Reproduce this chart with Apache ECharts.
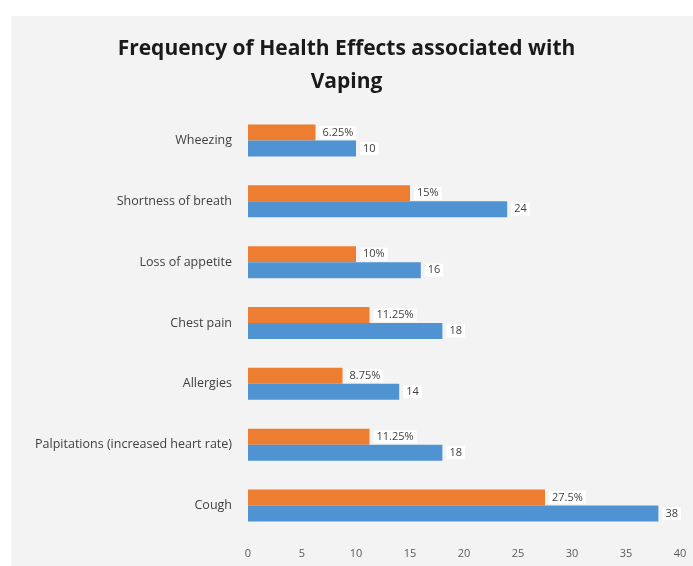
<!DOCTYPE html>
<html>
<head>
<meta charset="utf-8">
<script src="https://cdn.jsdelivr.net/npm/echarts@6/dist/echarts.min.js"></script>
<style>
html,body{margin:0;padding:0;background:#ffffff;}
#chart{width:693px;height:566px;}
</style>
</head>
<body>
<div id="chart"></div>
<script>
const categories = ["Cough", "Palpitations (increased heart rate)", "Allergies", "Chest pain", "Loss of appetite", "Shortness of breath", "Wheezing"];
const countValues = [38, 18, 14, 18, 16, 24, 10];
const percentValues = [27.5, 11.25, 8.75, 11.25, 10, 15, 6.25];
const percentLabels = ["27.5%", "11.25%", "8.75%", "11.25%", "10%", "15%", "6.25%"];
const xTicks = [0, 5, 10, 15, 20, 25, 30, 35, 40];

const chart = echarts.init(document.getElementById('chart'));
const labelStyle = {
  show: true, position: 'right', distance: 4,
  fontFamily: 'Open Sans', fontSize: 11, color: '#404040',
  backgroundColor: '#ffffff', padding: [1, 3]
};
chart.setOption({
  animation: false,
  backgroundColor: '#ffffff',
  graphic: [{
    type: 'rect', z: -10, silent: true,
    shape: {x: 11, y: 16, width: 682, height: 550},
    style: {fill: '#f3f3f3'}
  }],
  title: {
    text: 'Frequency of Health Effects associated with\nVaping',
    left: 'center', top: 28,
    textStyle: {fontFamily: 'Open Sans', fontWeight: 'bold', fontSize: 21, color: '#1a1a1a', lineHeight: 33}
  },
  grid: {left: 248, right: 13, top: 110, bottom: 30, containLabel: false},
  xAxis: {
    type: 'value', min: xTicks[0], max: xTicks[xTicks.length - 1], interval: 5,
    axisLine: {show: false}, axisTick: {show: false}, splitLine: {show: false},
    axisLabel: {fontFamily: 'Open Sans', fontSize: 11, color: '#595959', margin: 12}
  },
  yAxis: {
    type: 'category', data: categories,
    axisLine: {show: false}, axisTick: {show: false},
    axisLabel: {fontFamily: 'Open Sans', fontSize: 12.5, color: '#404040', margin: 16}
  },
  series: [
    {
      name: 'Percent', type: 'bar', data: percentValues,
      barWidth: 16, barGap: '0%', barCategoryGap: '48%',
      itemStyle: {color: '#ED7D31'},
      label: Object.assign({}, labelStyle, {formatter: p => percentLabels[p.dataIndex]})
    },
    {
      name: 'Count', type: 'bar', data: countValues,
      barWidth: 16,
      itemStyle: {color: '#4F93D2'},
      label: Object.assign({}, labelStyle, {formatter: p => String(p.value)})
    }
  ]
});
</script>
</body>
</html>
